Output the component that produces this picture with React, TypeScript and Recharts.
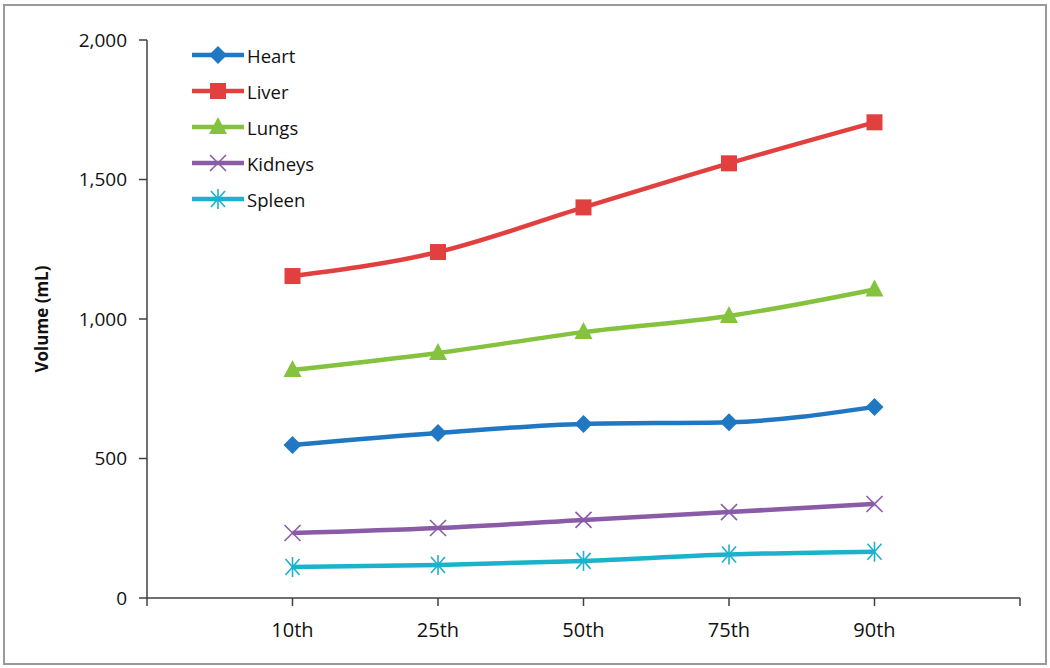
import { LineChart, Line, XAxis, YAxis, Label } from 'recharts'

const categories = ['10th', '25th', '50th', '75th', '90th']
const heart = [548, 591, 624, 630, 685]
const liver = [1154, 1240, 1400, 1558, 1705]
const lungs = [817, 878, 953, 1011, 1106]
const kidneys = [233, 251, 280, 308, 337]
const spleen = [111, 118, 133, 156, 166]
const yTicks = [0, 500, 1000, 1500, 2000]

const series = [
  { key: 'Heart', values: heart, color: '#1F78C1', shape: 'diamond' },
  { key: 'Liver', values: liver, color: '#E2403F', shape: 'square' },
  { key: 'Lungs', values: lungs, color: '#85C23F', shape: 'triangle' },
  { key: 'Kidneys', values: kidneys, color: '#8A5BA6', shape: 'x' },
  { key: 'Spleen', values: spleen, color: '#1BB2CC', shape: 'star' },
]

// x position 1..5, with empty slots at 0 and 6 like the original axis
const data = categories.map((c, i) => {
  const row: any = { pos: i + 1, label: c }
  series.forEach((s) => (row[s.key] = s.values[i]))
  return row
})

const FONT = '"Open Sans", "Noto Sans", sans-serif'

function Marker({ shape, color, x, y }: { shape: string; color: string; x: number; y: number }) {
  if (shape === 'diamond') {
    return <polygon points={`${x},${y - 9} ${x + 9},${y} ${x},${y + 9} ${x - 9},${y}`} fill={color} />
  }
  if (shape === 'square') {
    return <rect x={x - 8} y={y - 8} width={16} height={16} fill={color} />
  }
  if (shape === 'triangle') {
    return <polygon points={`${x},${y - 10} ${x + 9},${y + 7} ${x - 9},${y + 7}`} fill={color} />
  }
  if (shape === 'x') {
    return (
      <g stroke={color} strokeWidth={1.6}>
        <line x1={x - 8} y1={y - 8} x2={x + 8} y2={y + 8} />
        <line x1={x - 8} y1={y + 8} x2={x + 8} y2={y - 8} />
      </g>
    )
  }
  return (
    <g stroke={color} strokeWidth={1.6}>
      <line x1={x - 7} y1={y - 8} x2={x + 7} y2={y + 8} />
      <line x1={x - 7} y1={y + 8} x2={x + 7} y2={y - 8} />
      <line x1={x} y1={y - 10} x2={x} y2={y + 10} />
    </g>
  )
}

const makeDot = (shape: string, color: string) => (props: any) => {
  const { cx, cy, index } = props
  if (cx == null || cy == null) return <g key={index} />
  return <Marker key={index} shape={shape} color={color} x={cx} y={cy} />
}

const ChartLegend = () => (
  <div style={{ position: 'absolute', left: 190, top: 37, fontFamily: FONT, fontSize: 18.5, color: '#111' }}>
    {series.map((s) => (
      <div key={s.key} style={{ display: 'flex', alignItems: 'center', height: 36 }}>
        <svg width={56} height={22}>
          <line x1={2} y1={11} x2={54} y2={11} stroke={s.color} strokeWidth={4.5} />
          <Marker shape={s.shape} color={s.color} x={28} y={11} />
        </svg>
        <span style={{ marginLeft: 1 }}>{s.key}</span>
      </div>
    ))}
  </div>
)

export default function App() {
  return (
    <div style={{ position: 'absolute', left: 0, top: 0, width: 1050, height: 668, background: '#fff' }}>
      <LineChart
        width={1050}
        height={668}
        data={data}
        margin={{ top: 40, right: 30, bottom: 10, left: 0 }}
        style={{ fontFamily: FONT }}
      >
        <XAxis
          dataKey="pos"
          type="number"
          domain={[0, 6]}
          ticks={[0, 1, 2, 3, 4, 5, 6]}
          tickFormatter={(v: number) => categories[v - 1] ?? ''}
          interval={0}
          height={60}
          tickSize={8}
          tickMargin={17}
          stroke="#404040"
          strokeWidth={1.5}
          tick={{ fill: '#111', fontSize: 20 }}
        />
        <YAxis
          domain={[0, 2000]}
          ticks={yTicks}
          width={147}
          tickSize={8}
          tickMargin={12}
          stroke="#404040"
          strokeWidth={1.5}
          tick={{ fill: '#111', fontSize: 19 }}
          tickFormatter={(v: number) => v.toLocaleString('en-US')}
        >
          <Label
            value="Volume (mL)"
            angle={-90}
            position="insideLeft"
            offset={42}
            style={{ fontSize: 17, fontWeight: 'bold', fill: '#111', textAnchor: 'middle' }}
          />
        </YAxis>
        {series.map((s) => (
          <Line
            key={s.key}
            dataKey={s.key}
            type="monotone"
            stroke={s.color}
            strokeWidth={4.5}
            dot={makeDot(s.shape, s.color)}
            activeDot={false}
            isAnimationActive={false}
          />
        ))}
      </LineChart>
      <ChartLegend />
      <div
        style={{
          position: 'absolute',
          left: 3,
          top: 4,
          width: 1040,
          height: 657,
          border: '2px solid #9a9a9a',
          pointerEvents: 'none',
        }}
      />
    </div>
  )
}
